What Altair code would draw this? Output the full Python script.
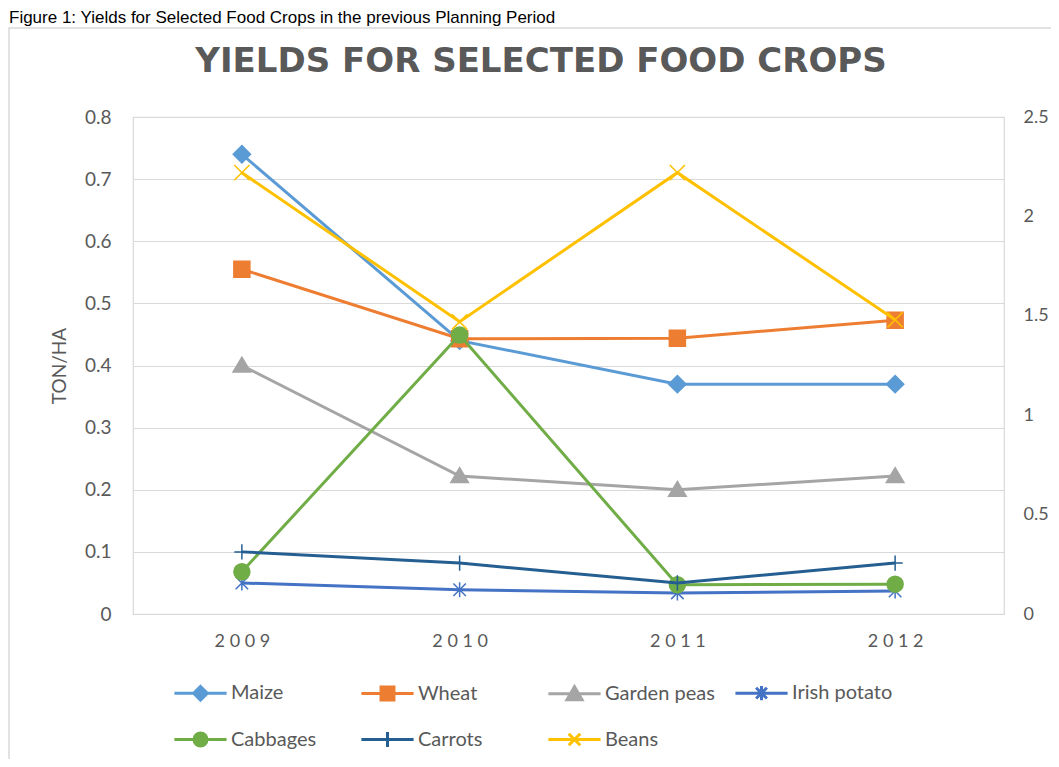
import altair as alt
import pandas as pd

# ---------------- data ----------------
years = ["2009", "2010", "2011", "2012"]
series_names = ["Maize", "Wheat", "Garden peas", "Irish potato", "Cabbages", "Carrots", "Beans"]
maize = [0.74, 0.44, 0.37, 0.37]
wheat = [0.555, 0.443, 0.444, 0.473]
garden_peas = [0.40, 0.222, 0.20, 0.222]
irish_potato = [0.05, 0.039, 0.034, 0.037]
cabbages = [0.068, 0.449, 0.047, 0.048]
carrots = [0.10, 0.082, 0.05, 0.082]
beans = [2.22, 1.47, 2.22, 1.48]  # plotted on the secondary (right) axis

colors = ["#5B9BD5", "#ED7D31", "#A5A5A5", "#4472C4", "#70AD47", "#255E91", "#FFC000"]
left_ticks = [0, 0.1, 0.2, 0.3, 0.4, 0.5, 0.6, 0.7, 0.8]
right_ticks = [0, 0.5, 1, 1.5, 2, 2.5]

title_text = "YIELDS FOR SELECTED FOOD CROPS"
caption_text = "Figure 1: Yields for Selected Food Crops in the previous Planning Period"
y_title = "TON/HA"

primary_series = {
    "Maize": maize,
    "Wheat": wheat,
    "Garden peas": garden_peas,
    "Irish potato": irish_potato,
    "Cabbages": cabbages,
    "Carrots": carrots,
}
rows = []
for name, vals in primary_series.items():
    for yr, v in zip(years, vals):
        rows.append({"year": yr, "series": name, "value": v})
df_primary = pd.DataFrame(rows)
df_beans = pd.DataFrame({"year": years, "series": ["Beans"] * len(years), "value": beans})

# ---------------- styling ----------------
GREY = "#595959"
GRID = "#d9d9d9"
FONT = "Lato"

plot_shapes = {
    "Maize": "M0,-1.08L1.08,0L0,1.08L-1.08,0Z",
    "Wheat": "M-1,-1L1,-1L1,1L-1,1Z",
    "Garden peas": "M0,-1.05L1.1,0.8L-1.1,0.8Z",
    "Irish potato": "M-0.78,-0.78L0.78,0.78M-0.78,0.78L0.78,-0.78M0,-0.95L0,0.95",
    "Cabbages": "circle",
    "Carrots": "M0,-0.95L0,0.95M-0.95,0L0.95,0",
    "Beans": "M-0.95,-0.95L0.95,0.95M-0.95,0.95L0.95,-0.95",
}

LINE = "M-1.45,0L1.45,0"
legend_shapes = [
    LINE + "M0,-0.38L0.38,0L0,0.38L-0.38,0Z",
    LINE + "M-0.36,-0.36L0.36,-0.36L0.36,0.36L-0.36,0.36Z",
    LINE + "M0,-0.4L0.42,0.32L-0.42,0.32Z",
    LINE + "M-0.3,-0.3L0.3,0.3M-0.3,0.3L0.3,-0.3M0,-0.4L0,0.4",
    LINE + "M-0.36,0A0.36,0.36 0 1,0 0.36,0A0.36,0.36 0 1,0 -0.36,0Z",
    LINE + "M0,-0.42L0,0.42",
    LINE + "M-0.32,-0.32L0.32,0.32M-0.32,0.32L0.32,-0.32",
]

legend = alt.Legend(
    title=None,
    orient="none",
    direction="horizontal",
    legendX=48,
    legendY=556,
    columns=4,
    gridAlign="all",
    symbolSize=1296,
    symbolStrokeWidth=3,
    symbolOpacity=1,
    labelFont=FONT,
    labelFontSize=20,
    labelColor=GREY,
    labelOffset=11,
    rowPadding=13,
    columnPadding=14,
)

color_scale = alt.Scale(domain=series_names, range=colors)

x_enc = alt.X(
    "year:O",
    scale=alt.Scale(type="point", padding=0.5),
    axis=alt.Axis(
        title=None, labelAngle=0, labelFont=FONT, labelFontSize=18, labelColor=GREY,
        labelPadding=18, domain=False, ticks=False, grid=False,
        labelExpr="join(split(datum.label, ''), ' ')",
    ),
)

y_left = alt.Y(
    "value:Q",
    scale=alt.Scale(domain=[0, 0.8], nice=False),
    axis=alt.Axis(
        values=left_ticks, format=".1~f", grid=True, gridColor=GRID, gridWidth=1.2,
        domain=False, ticks=False, labelFont=FONT, labelFontSize=19, labelColor=GREY,
        labelPadding=22, title=y_title, titleFont=FONT, titleFontSize=19,
        titleFontWeight="normal", titleColor=GREY, titlePadding=15,
    ),
)

y_right = alt.Y(
    "value:Q",
    scale=alt.Scale(domain=[0, 2.5], nice=False),
    axis=alt.Axis(
        orient="right", values=right_ticks, format=".1~f", grid=False, domain=False,
        ticks=False, labelFont=FONT, labelFontSize=18, labelColor=GREY,
        labelPadding=19, title=None,
    ),
)


def series_layer(df, name, y_enc):
    col = colors[series_names.index(name)]
    base = alt.Chart(df).transform_filter(alt.datum.series == name)
    line = base.mark_line(color=col, strokeWidth=3).encode(x=x_enc, y=y_enc)
    pts = base.mark_point(shape=plot_shapes[name], size=256, filled=False, fill=col,
                          stroke=col, strokeWidth=1.5, opacity=1).encode(x=x_enc, y=y_enc)
    return [line, pts]


primary_layers = []
for n in primary_series:
    primary_layers += series_layer(df_primary, n, y_left)
primary = alt.layer(*primary_layers)

secondary = alt.layer(*series_layer(df_beans, "Beans", y_right))

# legend-only layer (no rows drawn): gives line+marker legend symbols
legend_layer = (
    alt.Chart(pd.DataFrame({"entry": series_names}))
    .transform_filter("false")
    .mark_point(filled=False, opacity=1, strokeWidth=3)
    .encode(
        color=alt.Color("entry:N", scale=color_scale, legend=legend),
        fill=alt.Fill("entry:N", scale=color_scale, legend=legend),
        shape=alt.Shape("entry:N", scale=alt.Scale(domain=series_names, range=legend_shapes), legend=legend),
    )
)

one = alt.Data(values=[{}])
frame = alt.Chart(one).mark_rect(fillOpacity=0, stroke=GRID, strokeWidth=1.5).encode(
    x=alt.value(-124), x2=alt.value(940), y=alt.value(-89), y2=alt.value(680)
)
caption = alt.Chart(one).mark_text(
    text=caption_text, font="Liberation Sans", fontSize=17, color="#000000",
    align="left", baseline="top",
).encode(x=alt.value(-124), y=alt.value(-107))
title = alt.Chart(one).mark_text(
    text=title_text, font="DejaVu Sans", fontSize=34, fontWeight="bold", color=GREY,
    align="center", baseline="middle",
).encode(x=alt.value(408), y=alt.value(-55))

chart = (
    alt.layer(frame, primary, secondary, legend_layer, caption, title)
    .resolve_scale(y="independent")
    .properties(
        width=871,
        height=497,
        autosize=alt.AutoSizeParams(type="none"),
        padding={"left": 125, "top": 109, "right": 47, "bottom": 145},
        background="white",
    )
    .configure_view(stroke=GRID, strokeWidth=1.2)
)

chart.save("out.html", embed_options={"renderer": "svg", "actions": False})
